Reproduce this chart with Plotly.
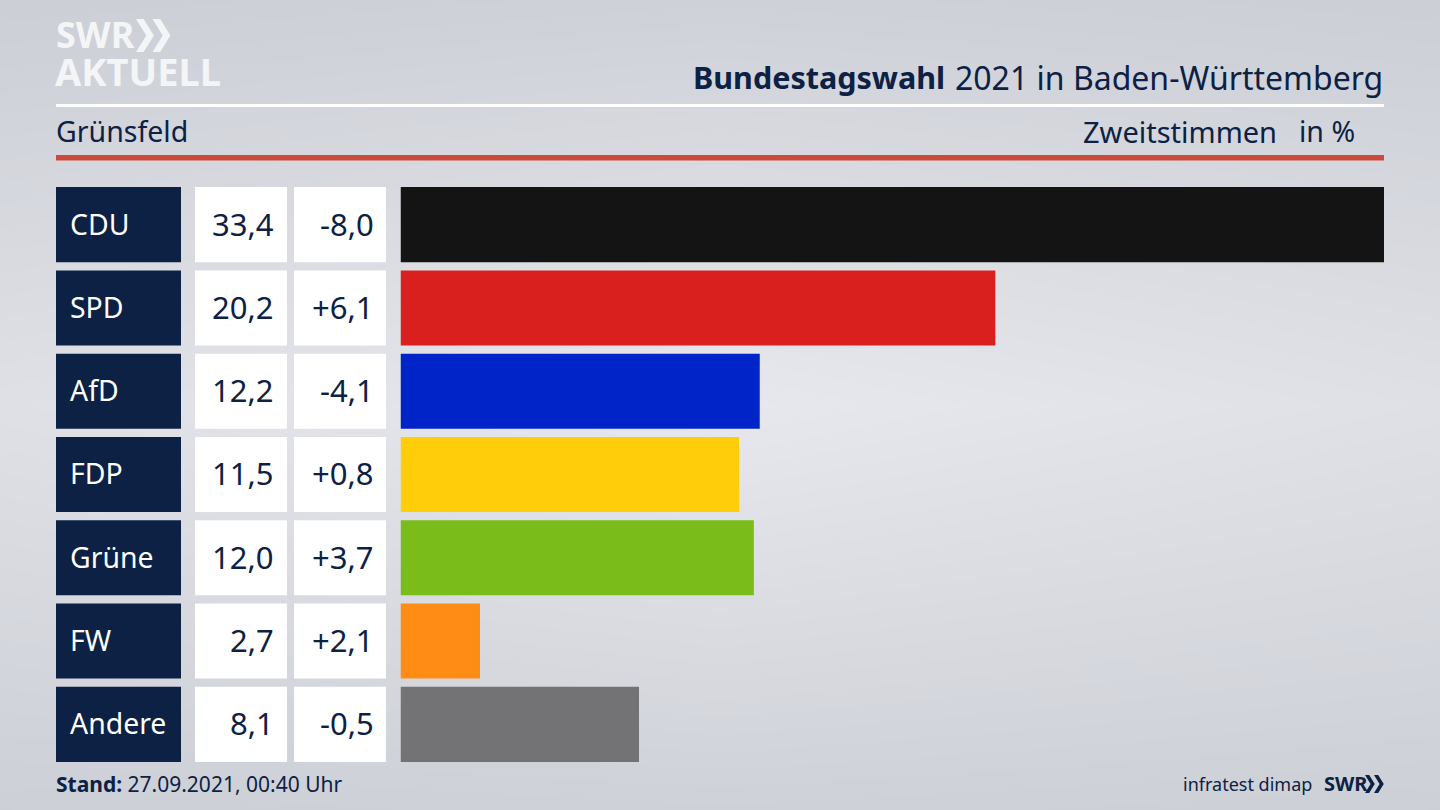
import plotly.graph_objects as go

parties = ["CDU", "SPD", "AfD", "FDP", "Grüne", "FW", "Andere"]
values = [33.4, 20.2, 12.2, 11.5, 12.0, 2.7, 8.1]
diffs = ["-8,0", "+6,1", "-4,1", "+0,8", "+3,7", "+2,1", "-0,5"]
colors = ["#141414", "#d9201e", "#0024c8", "#ffcd09", "#7abd1a", "#ff8c14", "#737375"]

NAVY = "#0c2144"
FONT = "Noto Sans"
W, H = 1440, 810


def px(x):
    return x / W


def py(y):
    return 1 - y / H


def label(x, y, text, size=29, color=NAVY, anchor="left"):
    return dict(text=text, x=px(x), y=py(y), xref="paper", yref="paper", xanchor=anchor,
                yanchor="middle", showarrow=False, font=dict(family=FONT, size=size, color=color))


def chevrons(x, y, h, color):
    # double arrow of the SWR logo
    w = h * 0.31
    path = ""
    for dx in (0, h * 0.5):
        x0 = x + dx
        pts = [(x0, y), (x0 + w * 0.75, y), (x0 + w * 0.75 + w, y + h / 2), (x0 + w * 0.75, y + h),
               (x0, y + h), (x0 + w, y + h / 2)]
        path += "M " + " L ".join(f"{px(a):.5f},{py(b):.5f}" for a, b in pts) + " Z "
    return dict(type="path", path=path, xref="paper", yref="paper", fillcolor=color, line_width=0)


fig = go.Figure()

# background glow
fig.add_trace(go.Heatmap(z=[[205, 207, 205], [224, 233, 224], [204, 207, 204]], x=[0, 0.5, 1], y=[0, 0.5, 1],
                         zsmooth="best", showscale=False, hoverinfo="skip", zmin=200, zmax=235,
                         colorscale=[[0, "#c8cbd2"], [1, "#e9eaef"]], xaxis="x", yaxis="y"))

# party, value and change cells
fig.add_trace(go.Bar(y=parties, x=[1] * 7, orientation="h", marker=dict(color=NAVY, line_width=0),
                     xaxis="x2", yaxis="y2", hoverinfo="skip"))
fig.add_trace(go.Bar(y=parties, x=[1] * 7, orientation="h", marker=dict(color="white", line_width=0),
                     xaxis="x3", yaxis="y3", hoverinfo="skip"))
fig.add_trace(go.Bar(y=parties, x=[1] * 7, orientation="h", marker=dict(color="white", line_width=0),
                     xaxis="x4", yaxis="y4", hoverinfo="skip"))
# result bars
fig.add_trace(go.Bar(y=parties, x=values, orientation="h", marker=dict(color=colors, line_width=0),
                     xaxis="x5", yaxis="y5"))

notes = [
    label(691, 77, "<b>Bundestagswahl</b>", 30.5),
    label(1385, 77, "2021 in Baden-Württemberg", 32, anchor="right"),
    label(54, 131, "Grünsfeld", 28.5),
    label(1279, 131, "Zweitstimmen", 29, anchor="right"),
    label(1357, 131, "in %", 28.5, anchor="right"),
    label(54, 784, "<b>Stand:</b> 27.09.2021, 00:40 Uhr", 21),
    label(1314, 784, "infratest dimap", 18, anchor="right"),
    label(1322, 783, "<b>SWR</b>", 20),
    label(54, 35, "<b>SWR</b>", 36, "#f4f5f7"),
    label(53, 71, "<b>AKTUELL</b>", 38, "#f4f5f7"),
]
for party, value, diff in zip(parties, values, diffs):
    for x, text, anchor in ((68, party, "left"), (275.5, f"{value:.1f}".replace(".", ","), "right"), (375.5, diff, "right")):
        color = "white" if anchor == "left" else NAVY
        size = 28.4 if anchor == "left" else 31
        notes.append(dict(text=text, x=px(x), y=party, xref="paper", yref="y5", xanchor=anchor, yanchor="middle",
                          yshift=1, showarrow=False, font=dict(family=FONT, size=size, color=color)))

hidden = dict(visible=False, fixedrange=True)
band = dict(visible=False, fixedrange=True, type="category", categoryorder="array", categoryarray=parties,
            autorange=False, range=[6.5, -0.5], domain=[py(766), py(183)])

fig.update_layout(
    width=W, height=H, margin=dict(l=0, r=0, t=0, b=0), showlegend=False, bargap=0.0986,
    paper_bgcolor="#dcdee3", plot_bgcolor="rgba(0,0,0,0)",
    xaxis=dict(hidden, domain=[0, 1], range=[0, 1]),
    yaxis=dict(hidden, domain=[0, 1], range=[0, 1]),
    xaxis2=dict(hidden, domain=[px(56), px(181)], range=[0, 1], anchor="y2"),
    xaxis3=dict(hidden, domain=[px(195), px(287)], range=[0, 1], anchor="y3"),
    xaxis4=dict(hidden, domain=[px(294), px(386)], range=[0, 1], anchor="y4"),
    xaxis5=dict(hidden, domain=[px(400.5), px(1384)], range=[0, 33.4], anchor="y5"),
    yaxis2=dict(band, anchor="x2"),
    yaxis3=dict(band, anchor="x3"),
    yaxis4=dict(band, anchor="x4"),
    yaxis5=dict(band, anchor="x5"),
    annotations=notes,
    shapes=[
        dict(type="rect", xref="paper", yref="paper", x0=px(56), x1=px(1384), y0=py(104), y1=py(107),
             fillcolor="white", line_width=0),
        dict(type="rect", xref="paper", yref="paper", x0=px(56), x1=px(1384), y0=py(155), y1=py(160.5),
             fillcolor="#cb4a3a", line_width=0),
        chevrons(136, 19, 33, "#f4f5f7"),
        chevrons(1365, 775, 18, NAVY),
    ],
)

fig.write_html("out.html", config={"displayModeBar": False}, post_script="document.body.style.margin='0';")
